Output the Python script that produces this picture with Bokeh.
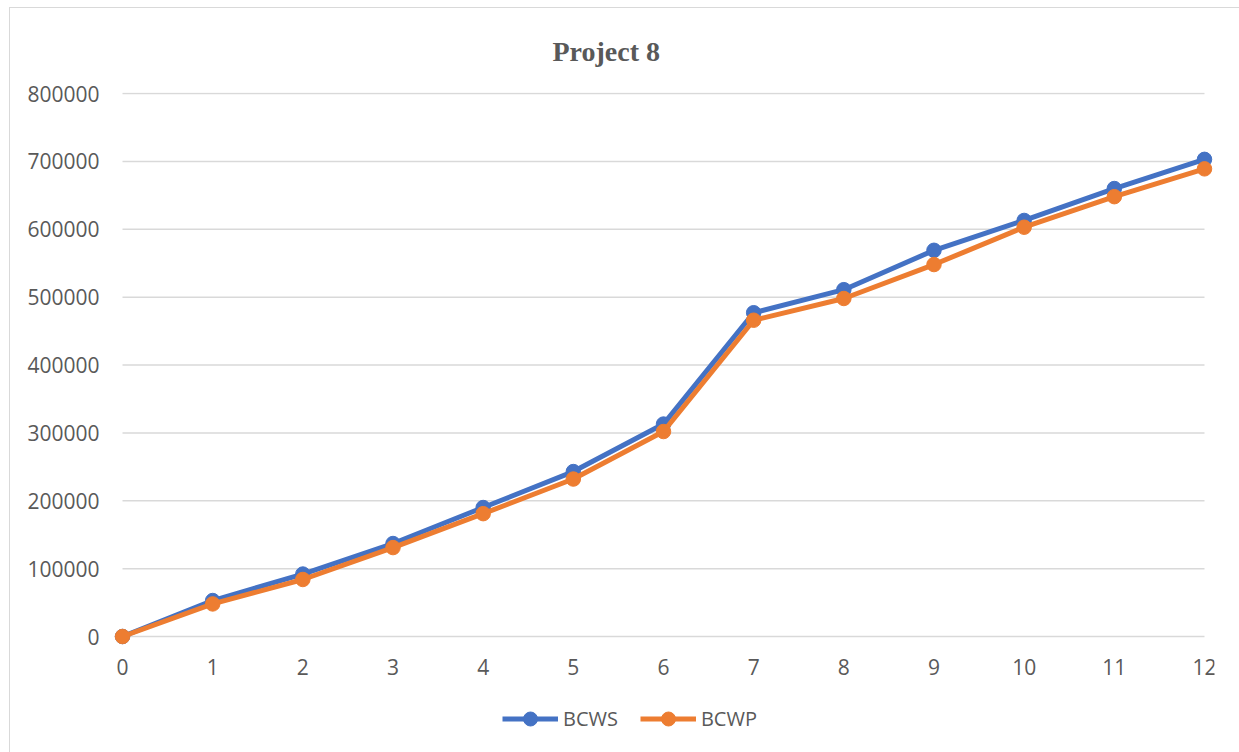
from bokeh.plotting import figure
from bokeh.models import (Range1d, FixedTicker, BasicTickFormatter, Legend,
                          LegendItem)
from bokeh.embed import file_html
from bokeh.resources import INLINE

# Earned value data for the project, by period
periods = [0, 1, 2, 3, 4, 5, 6, 7, 8, 9, 10, 11, 12]
bcws = [0, 53000, 92000, 137000, 190000, 243000, 313000, 477000, 511000,
        569000, 613000, 660000, 703000]
bcwp = [0, 48000, 84000, 131000, 181000, 232000, 302000, 466000, 498000,
        548000, 603000, 648000, 689000]
y_ticks = [0, 100000, 200000, 300000, 400000, 500000, 600000, 700000, 800000]

BLUE = "#4472C4"
ORANGE = "#ED7D31"
TEXT = "#595959"
GRID = "#d9d9d9"
FONT = "Open Sans"

# The frame reaches down to the bottom of the canvas so the legend can sit
# inside it; the x axis is pinned at y = 0 and the gridlines are drawn as
# segments spanning only the period range.
p = figure(frame_width=1102, frame_height=660, output_backend="svg",
           toolbar_location=None,
           x_range=Range1d(-0.111, 12.111), y_range=Range1d(-170900, 801500),
           min_border_left=102, min_border_right=26,
           min_border_top=84, min_border_bottom=0,
           background_fill_color="white", border_fill_color="white")
p.outline_line_color = None
# chart area border, open to the right and bottom
p.margin = (7, 0, 0, 9)
p.styles = {"border-left": "1px solid #d9d9d9", "border-top": "1px solid #d9d9d9"}

# Title
p.title.text = "Project 8"
p.title.text_font = "Liberation Serif"
p.title.text_font_style = "bold"
p.title.text_font_size = "28px"
p.title.text_color = TEXT
p.title.align = "left"
p.title.offset = 440
p.title.vertical_align = "middle"
p.title.standoff = 50

# Axes
p.xaxis.ticker = FixedTicker(ticks=periods)
p.xaxis.fixed_location = 0
p.yaxis.ticker = FixedTicker(ticks=y_ticks)
p.yaxis.formatter = BasicTickFormatter(use_scientific=False)
for ax in (p.xaxis, p.yaxis):
    ax.axis_line_color = None
    ax.major_tick_line_color = None
    ax.minor_tick_line_color = None
    ax.major_label_text_font = FONT
    ax.major_label_text_font_size = "21px"
    ax.major_label_text_color = TEXT
p.yaxis.major_label_standoff = 7
p.xaxis.major_label_standoff = 16

p.xgrid.grid_line_color = None
p.ygrid.grid_line_color = None
p.segment(x0=periods[0], x1=periods[-1], y0=y_ticks, y1=y_ticks,
          line_color=GRID, line_width=1.5)

# Series
l1 = p.line(periods, bcws, line_color=BLUE, line_width=5)
s1 = p.scatter(periods, bcws, size=14.5, fill_color=BLUE, line_color=BLUE)
l2 = p.line(periods, bcwp, line_color=ORANGE, line_width=5)
s2 = p.scatter(periods, bcwp, size=14.5, fill_color=ORANGE, line_color=ORANGE)

legend = Legend(items=[LegendItem(label="BCWS", renderers=[l1, s1]),
                       LegendItem(label="BCWP", renderers=[l2, s2])],
                orientation="horizontal", location=(390, 16),
                glyph_width=56, glyph_height=35, label_standoff=5, spacing=22,
                label_text_font=FONT, label_text_font_size="20px",
                label_text_color=TEXT, border_line_color=None,
                background_fill_alpha=0, padding=0, margin=0)
p.add_layout(legend, "center")

open("out.html", "w").write(file_html(p, INLINE))
